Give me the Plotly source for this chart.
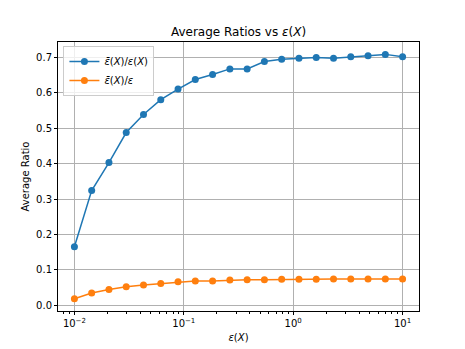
import plotly.graph_objects as go

# epsilon values on the x axis (20 log-spaced points from 1e-2 to 1e1)
eps = [0.01, 0.01438, 0.02069, 0.02976, 0.04281, 0.06158, 0.08859, 0.1274,
       0.1833, 0.2637, 0.3793, 0.5456, 0.7848, 1.129, 1.624, 2.336,
       3.360, 4.833, 6.952, 10.0]

ratio_eps_x = [0.165, 0.324, 0.403, 0.488, 0.539, 0.581, 0.611, 0.638,
               0.652, 0.668, 0.668, 0.689, 0.695, 0.698, 0.700, 0.698,
               0.702, 0.705, 0.709, 0.702]

ratio_eps = [0.018, 0.034, 0.044, 0.052, 0.057, 0.061, 0.066, 0.068,
             0.068, 0.071, 0.072, 0.072, 0.073, 0.073, 0.073, 0.074,
             0.074, 0.074, 0.074, 0.074]

x_ticks = [0.01, 0.1, 1, 10]
x_ticklabels = ["10<sup>−2</sup>", "10<sup>−1</sup>", "10<sup>0</sup>", "10<sup>1</sup>"]
minor_x = [m * 10 ** p for p in (-3, -2, -1, 0, 1) for m in range(2, 10)]

fig = go.Figure()
fig.add_trace(go.Scatter(x=eps, y=ratio_eps_x, mode="lines+markers",
                         name="<i>ε̄</i>(<i>X</i>)/<i>ε</i>(<i>X</i>)",
                         line=dict(color="#1f77b4", width=1.5),
                         marker=dict(size=7, color="#1f77b4")))
fig.add_trace(go.Scatter(x=eps, y=ratio_eps, mode="lines+markers",
                         name="<i>ε̄</i>(<i>X</i>)/<i>ε</i>",
                         line=dict(color="#ff7f0e", width=1.5),
                         marker=dict(size=7, color="#ff7f0e")))

axis_style = dict(showline=True, linecolor="black", linewidth=1, mirror=True,
                  ticks="outside", ticklen=3, tickcolor="black",
                  showgrid=True, gridcolor="#b0b0b0", gridwidth=0.8,
                  zeroline=False, automargin=False,
                  tickfont=dict(size=10, color="black"))

fig.update_xaxes(type="log", range=[-2.15, 1.15], tickmode="array",
                 tickvals=x_ticks, ticktext=x_ticklabels,
                 minor=dict(tickmode="array", tickvals=minor_x, ticks="outside",
                            ticklen=2, tickcolor="black", showgrid=False),
                 title=dict(text="<i>ε</i>(<i>X</i>)", font=dict(size=10, color="black"),
                            standoff=5),
                 **axis_style)
fig.update_yaxes(range=[-0.0166, 0.744], tickvals=[0, 0.1, 0.2, 0.3, 0.4, 0.5, 0.6, 0.7],
                 tickformat=".1f",
                 title=dict(text="Average Ratio", font=dict(size=10, color="black"),
                            standoff=4),
                 **axis_style)

fig.update_layout(
    width=465, height=349,
    margin=dict(l=58, r=46, t=42, b=38),
    paper_bgcolor="white", plot_bgcolor="white",
    font=dict(family="DejaVu Sans", size=10, color="black"),
    title=dict(text="Average Ratios vs <i>ε</i>(<i>X</i>)", x=0.513, xanchor="center",
               y=0.91, yanchor="middle", font=dict(size=12, color="black"),
               automargin=False),
    legend=dict(x=0.015, y=0.985, xanchor="left", yanchor="top",
                bgcolor="rgba(255,255,255,0.8)", bordercolor="#cccccc", borderwidth=1,
                font=dict(size=10, color="black"), tracegroupgap=0, itemwidth=30),
    showlegend=True,
)

# drop the browser's default page margin so the figure sits at the top-left corner
fig.write_html("out.html", config={"displayModeBar": False},
               post_script="document.body.style.margin='0';")
